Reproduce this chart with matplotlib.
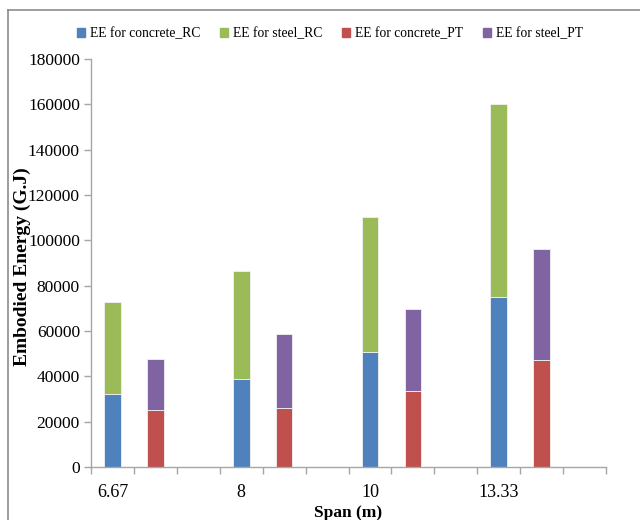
import matplotlib
matplotlib.use("Agg")
import matplotlib.pyplot as plt
from matplotlib.lines import Line2D
from matplotlib.patches import Patch
import numpy as np

spans = ["6.67", "8", "10", "13.33"]
concrete_rc = [32300, 38700, 50700, 74900]
steel_rc = [40400, 47700, 59600, 85300]
concrete_pt = [25200, 26200, 33700, 47200]
steel_pt = [22400, 32400, 35900, 48800]

colors = {"concrete_RC": "#4F81BD", "steel_RC": "#9BBB59",
          "concrete_PT": "#C0504D", "steel_PT": "#8064A2"}

serif = ["Liberation Serif", "DejaVu Serif"]
plt.rcParams["font.family"] = serif

fig = plt.figure(figsize=(6.4, 5.2), dpi=100)
ax = fig.add_axes([91 / 640, 53 / 520, (606 - 91) / 640, (467 - 59) / 520])

# three category slots per span: RC stack, PT stack, empty gap
n = len(spans)
rc_x = np.arange(n) * 3
pt_x = rc_x + 1
w = 0.39
edge = dict(edgecolor="#f2f2f2", linewidth=0.6)

ax.bar(rc_x, concrete_rc, w, color=colors["concrete_RC"], **edge)
ax.bar(rc_x, steel_rc, w, bottom=concrete_rc, color=colors["steel_RC"], **edge)
ax.bar(pt_x, concrete_pt, w, color=colors["concrete_PT"], **edge)
ax.bar(pt_x, steel_pt, w, bottom=concrete_pt, color=colors["steel_PT"], **edge)

ax.set_xlim(-0.5, 3 * n - 0.5)
ax.set_ylim(0, 180000)
ax.set_yticks(np.arange(0, 180001, 20000))

ax.set_xticks(rc_x)
ax.set_xticklabels(spans)
ax.set_xticks(np.arange(-0.5, 3 * n, 1.0), minor=True)
ax.tick_params(axis="x", which="major", length=0, labelsize=13, pad=12)
ax.tick_params(axis="x", which="minor", length=5, color="#a6a6a6", width=1)
ax.tick_params(axis="y", length=5, color="#a6a6a6", width=1, labelsize=12.5, pad=3)

for s in ("top", "right"):
    ax.spines[s].set_visible(False)
for s in ("left", "bottom"):
    ax.spines[s].set_color("#a6a6a6")
    ax.spines[s].set_linewidth(1)

ax.set_ylabel("Embodied Energy (G.J)", fontsize=14, fontweight="bold")
ax.yaxis.set_label_coords(-0.117, 0.49)
ax.set_xlabel("Span (m)", fontsize=12.5, fontweight="bold", labelpad=3)

handles = [Patch(color=colors[k]) for k in colors]
labels = ["EE for concrete_RC", "EE for steel_RC",
          "EE for concrete_PT", "EE for steel_PT"]
fig.legend(handles, labels, loc="center", bbox_to_anchor=(330 / 640, 1 - 34 / 520),
           ncol=4, frameon=False, fontsize=9.8, handlelength=0.6, handleheight=0.6,
           handletextpad=0.35, columnspacing=1.45)

# outer chart-area frame
fig.add_artist(Line2D([8 / 640, 1], [1 - 10 / 520, 1 - 10 / 520], color="#8c8c8c", lw=1.2))
fig.add_artist(Line2D([8 / 640, 8 / 640], [0, 1 - 10 / 520], color="#8c8c8c", lw=1.2))

fig.savefig("out.png", dpi=100)
